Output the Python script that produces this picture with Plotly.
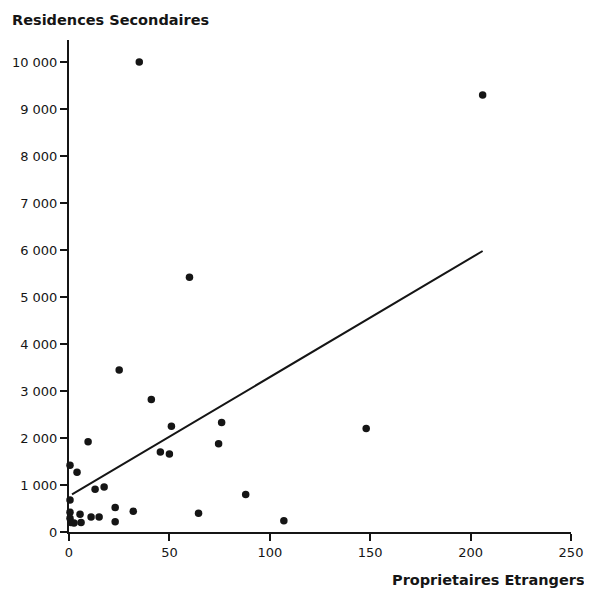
import plotly.graph_objects as go

# Data
proprietaires_etrangers = [35, 206, 60, 25, 41, 148, 51, 76, 74.5, 9.5, 45.5, 50, 0.5, 4,
                           13, 17.5, 88, 0.5, 23, 32, 64.5, 23, 107, 11, 15, 0.5, 0.5,
                           2.5, 5.5, 6, 1]
residences_secondaires = [10000, 9300, 5420, 3450, 2820, 2200, 2250, 2330, 1880, 1920, 1700,
                          1660, 1420, 1270, 910, 960, 800, 680, 520, 440, 400, 220, 240,
                          320, 320, 420, 290, 190, 380, 200, 200]

trend_x = [1.5, 206]
trend_y = [800, 5980]

x_tickvals = [0, 50, 100, 150, 200, 250]
x_ticktext = ["0", "50", "100", "150", "200", "250"]
y_tickvals = [0, 1000, 2000, 3000, 4000, 5000, 6000, 7000, 8000, 9000, 10000]
y_ticktext = ["0", "1 000", "2 000", "3 000", "4 000", "5 000", "6 000", "7 000",
              "8 000", "9 000", "10 000"]

FONT = "DejaVu Sans, Liberation Sans, Arial, sans-serif"
INK = "#151515"

fig = go.Figure()
fig.add_trace(go.Scatter(x=trend_x, y=trend_y, mode="lines",
                         line=dict(color=INK, width=2), hoverinfo="skip"))
fig.add_trace(go.Scatter(x=proprietaires_etrangers, y=residences_secondaires, mode="markers",
                         marker=dict(color=INK, size=7.5), cliponaxis=False))

fig.update_layout(
    width=592, height=589,
    margin=dict(l=61, r=29, t=32, b=65, autoexpand=False),
    paper_bgcolor="white", plot_bgcolor="white",
    showlegend=False,
    font=dict(family=FONT, size=13, color=INK),
    xaxis=dict(range=[0, 250], tickvals=x_tickvals, ticktext=x_ticktext,
               showgrid=False, zeroline=False, showline=True, linecolor=INK, linewidth=2,
               ticks="outside", ticklen=7, tickwidth=2, tickcolor=INK,
               tickfont=dict(size=13, family=FONT, color=INK)),
    yaxis=dict(range=[0, 10470], tickvals=y_tickvals, ticktext=y_ticktext,
               showgrid=False, zeroline=False, showline=True, linecolor=INK, linewidth=2,
               ticks="outside", ticklen=7, tickwidth=2, tickcolor=INK,
               tickfont=dict(size=13, family=FONT, color=INK)),
    annotations=[
        dict(text="<b>Residences Secondaires</b>", xref="paper", yref="paper",
             x=-0.1175, y=1.0, yshift=20, xanchor="left", yanchor="middle",
             showarrow=False, font=dict(size=14.5, family=FONT, color=INK)),
        dict(text="<b>Proprietaires Etrangers</b>", xref="paper", yref="paper",
             x=1.0, y=0, xanchor="right", yanchor="middle", xshift=16, yshift=-48,
             showarrow=False, font=dict(size=14.5, family=FONT, color=INK)),
    ],
)

fig.write_html("out.html")
